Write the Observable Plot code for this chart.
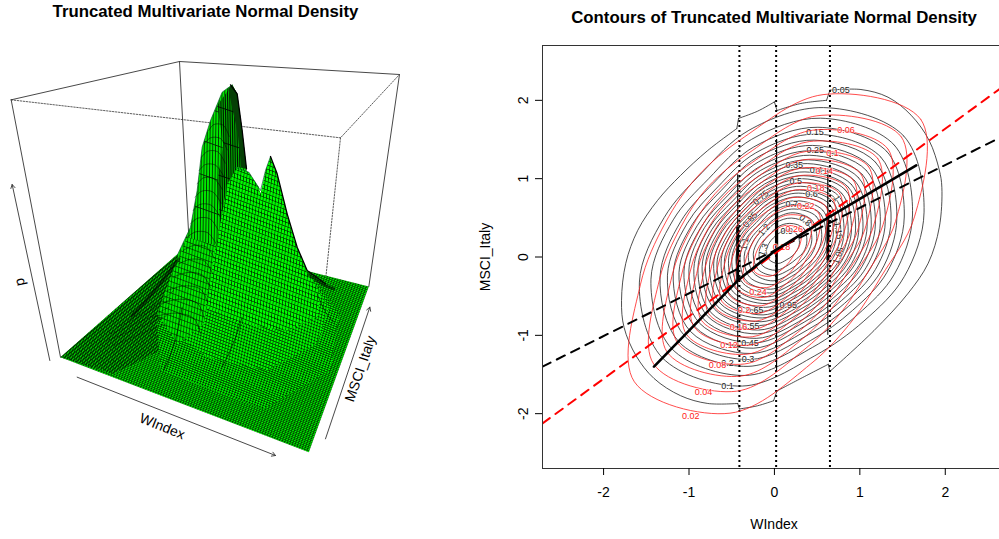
<!DOCTYPE html>
<html><head><meta charset="utf-8">
<script src="https://cdn.jsdelivr.net/npm/d3@7"></script>
<script src="https://cdn.jsdelivr.net/npm/@observablehq/plot@0.6"></script>
<style>
html,body{margin:0;padding:0;background:#fff}
#page{position:relative;width:999px;height:539px;overflow:hidden;background:#fff}
#left,#right{position:absolute;top:0}
#left{left:0;width:420px}#right{left:470px;width:535px}
svg{background:transparent!important;max-width:none!important}
</style></head><body><div id="page"><div id="left"></div><div id="right"></div></div>
<script>
const FONT = "Liberation Sans, Arial, sans-serif";
const titleLeft = "Truncated Multivariate Normal Density";
const titleRight = "Contours of Truncated Multivariate Normal Density";

// ---------- right panel: values ----------
const truncationCuts = [-0.41, 0.02, 0.65];
const regressionBlack = [[-2.715,-1.40],[2.705,1.56]];
const regressionRed = [[-2.715,-2.125],[2.705,2.20]];
const piecewiseMean = [[-1.41,-1.40],[-0.41,-0.28],[0.02,0.09],[0.64,0.51],[1.66,1.17]];
const contourAngles = [15,45,75,105,135,165,195,225,255,285,315,345];
const blackCentre = [0.10,0.13];
const redCentre = [0.036,0.083];
const black005Sectors = [
[[-0.44,1.64],[-0.78,1.36],[-1.10,1.04],[-1.37,0.72],[-1.60,0.34],[-1.74,-0.08],[-1.79,-0.556],[-1.76,-0.90],[-1.62,-1.26],[-1.41,-1.55],[-1.10,-1.77],[-0.78,-1.87],[-0.43,-1.87]],
[[-0.41,-1.94],[-0.2,-1.90],[-0.01,-1.835]],
[[0.03,-1.71],[0.31,-1.55],[0.63,-1.37]],
[[0.65,-1.46],[1.165,-0.94],[1.56,-0.47],[1.80,-0.08],[1.93,0.38],[1.96,0.89],[1.93,1.11],[1.81,1.49],[1.60,1.81],[1.33,2.04],[1.013,2.138],[0.65,2.13]],
[[0.61,2.0],[0.31,1.96],[0.03,1.87]],
[[0.0,1.98],[-0.2,1.86],[-0.42,1.77]]];
const blackLevels = [0.1,0.15,0.2,0.25,0.3,0.35,0.4,0.45,0.5,0.55,0.6,0.65,0.7,0.75,0.8,0.85,0.9,0.95,1,1.05,1.1,1.15,1.2,1.25,1.3,1.35];
const blackRadii = [
[1.71,2.00,1.84,1.54,1.34,1.44,1.74,2.00,1.84,1.44,1.34,1.47],
[1.57,1.84,1.70,1.42,1.23,1.33,1.60,1.84,1.70,1.33,1.23,1.35],
[1.47,1.72,1.58,1.32,1.15,1.24,1.49,1.72,1.58,1.24,1.15,1.26],
[1.38,1.62,1.49,1.24,1.08,1.16,1.40,1.62,1.49,1.16,1.08,1.19],
[1.31,1.53,1.41,1.18,1.02,1.10,1.33,1.53,1.41,1.10,1.02,1.12],
[1.24,1.45,1.34,1.12,.97,1.04,1.26,1.45,1.34,1.04,.97,1.06],
[1.18,1.38,1.27,1.06,.92,.99,1.20,1.38,1.27,.99,.92,1.01],
[1.12,1.31,1.21,1.01,.88,.95,1.14,1.31,1.21,.95,.88,.96],
[1.07,1.25,1.15,.96,.83,.90,1.08,1.25,1.15,.90,.83,.92],
[1.02,1.19,1.10,.92,.79,.86,1.03,1.19,1.10,.86,.79,.87],
[.97,1.13,1.04,.87,.76,.82,.98,1.13,1.04,.82,.76,.83],
[.92,1.08,.99,.83,.72,.78,.94,1.08,.99,.78,.72,.79],
[.88,1.03,.94,.79,.68,.74,.89,1.03,.94,.74,.68,.75],
[.83,.97,.90,.75,.65,.70,.84,.97,.90,.70,.65,.71],
[.79,.92,.85,.71,.62,.66,.80,.92,.85,.66,.62,.68],
[.74,.87,.80,.67,.58,.63,.75,.87,.80,.63,.58,.64],
[.70,.82,.75,.63,.55,.59,.71,.82,.75,.59,.55,.60],
[.65,.77,.71,.59,.51,.55,.66,.77,.71,.55,.51,.56],
[.61,.72,.66,.55,.48,.52,.62,.72,.66,.52,.48,.52],
[.56,.66,.61,.51,.44,.48,.57,.66,.61,.48,.44,.49],
[.52,.61,.56,.47,.40,.44,.52,.61,.56,.44,.40,.44],
[.47,.55,.50,.42,.36,.39,.47,.55,.50,.39,.36,.40],
[.41,.48,.45,.37,.32,.35,.42,.48,.45,.35,.32,.35],
[.35,.41,.38,.32,.28,.30,.36,.41,.38,.30,.28,.30],
[.29,.34,.31,.26,.22,.24,.29,.34,.31,.24,.22,.25],
[.20,.23,.22,.18,.16,.17,.20,.23,.22,.17,.16,.17]];
const redLevels = [0.02,0.04,0.06,0.08,0.1,0.12,0.14,0.16,0.18,0.2,0.22,0.24,0.26,0.28];
const redRadii = [
[1.66,2.37,2.06,1.5,1.33,1.36,1.66,2.37,2.15,1.5,1.25,1.26],
[1.43,2.05,1.78,1.29,1.15,1.17,1.43,2.05,1.86,1.29,1.08,1.09],
[1.28,1.83,1.59,1.16,1.03,1.05,1.28,1.83,1.66,1.16,.96,.97],
[1.16,1.66,1.44,1.05,.93,.95,1.16,1.66,1.50,1.05,.87,.88],
[1.06,1.51,1.31,.96,.85,.87,1.06,1.51,1.37,.96,.80,.80],
[.97,1.38,1.20,.87,.77,.79,.97,1.38,1.25,.87,.73,.73],
[.88,1.26,1.09,.80,.70,.72,.88,1.26,1.14,.80,.66,.67],
[.80,1.14,.99,.72,.64,.66,.80,1.14,1.04,.72,.60,.61],
[.72,1.03,.89,.65,.58,.59,.72,1.03,.93,.65,.54,.55],
[.64,.92,.80,.58,.51,.53,.64,.92,.83,.58,.48,.49],
[.56,.80,.70,.51,.45,.46,.56,.80,.73,.51,.42,.43],
[.48,.68,.59,.43,.38,.39,.48,.68,.62,.43,.36,.36],
[.38,.55,.47,.35,.31,.31,.38,.55,.49,.35,.29,.29],
[.27,.38,.33,.24,.21,.22,.27,.38,.34,.24,.20,.20]];
// label, x, y, rotation
const blackLabels = [["0.05",.778,2.125,0],["0.1",-.55,-1.643,0],["0.15",.474,1.596,0],["0.2",-.55,-1.358,0],["0.25",.477,1.362,0],["0.3",-.308,-1.302,0],["0.35",.231,1.17,0],["0.4",.487,1.106,0],["0.45",-.285,-1.097,0],["0.5",.251,.965,0],["0.55",-.277,-.876,0],["0.6",.435,.808,0],["0.65",-.23,-.684,0],["0.7",.204,.68,0],["0.75",-.159,.757,-40],["0.8",.36,.467,40],["0.85",-.285,.475,-50],["0.9",.145,.326,0],["0.95",.161,-.62,0],["1",.73,.75,60],["1.05",.751,.02,-70],["1.1",-.347,.169,-80],["1.15",.747,.339,80],["1.2",-.12,.348,-50],["1.3",-.128,.092,-70]];
const redLabels = [["0.02",-.98,-2.027],["0.04",-.831,-1.729],["0.06",.837,1.626],["0.08",-.667,-1.375],["0.1",.681,1.327],["0.12",-.531,-1.123],["0.14",.583,1.097],["0.16",-.421,-.897],["0.18",.485,.88],["0.2",-.355,-.684],["0.22",.368,.65],["0.24",-.191,-.45],["0.26",.231,.36],["0.28",.083,.125]];
// x, y1, y2, width of the packed contour steps along the cuts
const cutBars = [[-0.43,0.38,-0.30,3],[-0.43,1.05,0.38,1.1],[-0.43,-0.30,-1.2,1.1],[0.025,0.82,0.08,3.2],[0.025,1.5,0.82,1.1],[0.025,0.08,-0.78,2.6],[0.025,-0.78,-1.45,1.1],[0.625,0.55,-0.05,2.8],[0.625,1.1,0.55,1.2],[0.625,-0.05,-1.0,1]];

function polar(levels, radii, centre){
  return levels.flatMap((level,i)=>contourAngles.map((a,k)=>({level,
    x:centre[0]+radii[i][k]*Math.cos(a*Math.PI/180),
    y:centre[1]+radii[i][k]*Math.sin(a*Math.PI/180)})));
}
const sectorRows = black005Sectors.flatMap((pts,i)=>pts.map(p=>({i,x:p[0],y:p[1]})));
const sectorSteps = black005Sectors.flatMap((pts,i)=>{
  const next = black005Sectors[(i+1)%black005Sectors.length];
  return [{i,x:pts[pts.length-1][0],y:pts[pts.length-1][1]},{i,x:next[0][0],y:next[0][1]}];
});
const right = Plot.plot({
  width:535,height:539,marginLeft:72,marginRight:0,marginTop:45,marginBottom:71,
  style:{fontFamily:FONT,fontSize:"14px",color:"#000"},
  x:{domain:[-2.715,2.705]},y:{domain:[-2.7,2.7]},
  marks:[
    Plot.line(polar(blackLevels,blackRadii,blackCentre),{x:"x",y:"y",z:"level",curve:"catmull-rom-closed",stroke:"#222",strokeWidth:.8,clip:true}),
    Plot.line(sectorRows,{x:"x",y:"y",z:"i",curve:"catmull-rom",stroke:"#222",strokeWidth:.8}),
    Plot.line(sectorSteps,{x:"x",y:"y",z:"i",stroke:"#222",strokeWidth:.8}),
    Plot.text(blackLabels,{x:d=>d[1],y:d=>d[2],text:d=>d[0],rotate:d=>d[3],fontSize:9,fill:"#222",stroke:"#fff",strokeWidth:1.5,strokeOpacity:.7}),
    Plot.ruleX(truncationCuts,{stroke:"#000",strokeWidth:2,strokeDasharray:"2,3"}),
    Plot.ruleX(cutBars,{x:d=>d[0],y1:d=>d[1],y2:d=>d[2],strokeWidth:d=>d[3],stroke:"#000"}),
    Plot.line(polar(redLevels,redRadii,redCentre),{x:"x",y:"y",z:"level",curve:"catmull-rom-closed",stroke:"#ff2020",strokeWidth:.8,clip:true}),
    Plot.text(redLabels,{x:d=>d[1],y:d=>d[2],text:d=>d[0],fontSize:9,fill:"#ff2020",stroke:"#fff",strokeWidth:1.5,strokeOpacity:.7}),
    Plot.line(regressionBlack,{x:d=>d[0],y:d=>d[1],stroke:"#000",strokeWidth:2,strokeDasharray:"9,7",clip:true}),
    Plot.line(regressionRed,{x:d=>d[0],y:d=>d[1],stroke:"#ff0000",strokeWidth:2,strokeDasharray:"9,7",clip:true}),
    Plot.line(piecewiseMean,{x:d=>d[0],y:d=>d[1],stroke:"#000",strokeWidth:2.6}),
    Plot.frame({stroke:"#333"}),
    Plot.axisX({ticks:[-2,-1,0,1,2],tickSize:7,tickPadding:12,tickFormat:d=>String(d),label:"WIndex",labelAnchor:"center",labelArrow:"none",labelOffset:60,fontSize:14}),
    Plot.axisY({ticks:[-2,-1,0,1,2],tickSize:7,tickPadding:8,tickFormat:d=>String(d),tickRotate:-90,label:"MSCI_Italy",labelAnchor:"center",labelArrow:"none",labelOffset:62,fontSize:14}),
    Plot.text([titleRight],{frameAnchor:"top",dy:-34,fontSize:16.8,fontWeight:"bold",fill:"#000"})
  ]
});
document.getElementById("right").append(right);

// ---------- left panel: outlines (grid of the reference, 3 units per pixel) ----------
const boxSolid = [[[32,148],[537,33],[1197,72],[1105,708]],[[32,148],[180,920]],[[537,33],[565,560]]];
const boxDotted = [[[32,148],[1020,262],[1197,72]],[[1020,262],[975,690]]];
const axisArrows = [[148,930,35,402],[230,980,825,1215],[975,1165,1108,770]];
const axisNames = [["p",58,695,-102],["WIndex",485,1128,22],["MSCI_Italy",1080,955,-71]];
const floorOutline = [[180,920],[925,1205],[1105,708],[915,660],[530,612]];
const floorBack = [[180,920],[530,612],[560,650],[520,800],[480,900],[340,970]];
const rearPeak = [[530,615],[570,530],[590,420],[605,290],[630,210],[665,125],[695,103],[710,130],[725,240],[738,355],[745,480],[700,620],[560,760]];
const rearCore = [[650,165],[695,103],[710,130],[725,240],[738,355],[712,350],[680,400],[660,520],[650,400],[668,280]];
const rearShade = [[683,115],[695,103],[710,130],[725,240],[738,355],[722,350],[712,250]];
const midBody = [[560,640],[640,640],[760,500],[920,660],[1015,790],[990,960],[790,1075],[480,960],[470,820]];
const upperMid = [[600,650],[760,500],[920,660],[985,770],[950,880],[800,960],[620,920],[540,860]];
const frontBody = [[660,520],[670,460],[685,395],[710,350],[745,365],[775,410],[780,430],[795,360],[810,318],[830,370],[860,490],[890,590],[920,660],[960,730],[950,800],[860,840],[720,820],[615,770],[640,620]];
const leftBody = [[535,615],[560,560],[700,600],[645,640],[610,820],[530,880],[470,790]];
const silhouetteEdges = [[[690,103],[710,130],[725,240],[738,355]],[[810,318],[830,370],[860,490],[890,590],[920,660],[975,700]]];
const softEdges = [[[530,615],[570,530],[590,420],[605,290],[630,210],[665,125],[695,103]],[[700,350],[745,365],[780,420],[795,360],[810,318]]];
const ribArcs = [[[625,240],[640,222],[668,224],[686,258]],[[612,280],[630,262],[660,264],[680,298]],[[603,320],[622,302],[652,304],[674,338]],[[596,360],[615,342],[645,344],[670,378]],[[590,400],[609,382],[640,384],[666,418]],[[584,440],[604,422],[636,424],[662,458]],[[578,480],[598,462],[632,464],[658,498]],[[570,520],[592,503],[628,505],[654,540]],[[560,560],[586,544],[622,547],[648,582]],[[548,600],[580,585],[618,590],[642,625]],[[535,640],[572,626],[612,632],[636,668]],[[518,680],[562,666],[606,674],[630,712]],[[500,720],[552,706],[600,716],[622,758]],[[478,760],[540,746],[592,760],[612,806]],[[456,800],[528,788],[580,804],[600,850]]];
const ridgeLines = [[[545,770],[525,880],[490,960]],[[725,800],[700,880],[665,950]],[[950,730],[975,790],[1000,815]]];
const creases = [[[535,625],[480,700],[420,770],[395,795]],[[925,672],[970,705],[1000,715]]];
const fanLines = [[[520,720],[460,770],[380,810]],[[510,745],[440,790],[350,830]],[[505,770],[430,810],[330,850]],[[500,795],[420,830],[320,870]],[[495,820],[420,850],[340,885]]];

const l2 = a=>a.flatMap((pts,i)=>pts.map(p=>({i,x:p[0],y:p[1]})));
const poly = (pts,fill)=>Plot.line(pts,{x:d=>d[0],y:d=>d[1],fill,stroke:"none"});
const left = Plot.plot({
  width:420,height:539,marginLeft:0,marginRight:0,marginTop:0,marginBottom:0,
  style:{fontFamily:FONT,fontSize:"14px",color:"#000"},
  x:{domain:[0,1230],range:[0,410],axis:null},
  y:{domain:[0,1260],range:[50,470],axis:null},
  marks:[
    Plot.line(l2(boxDotted),{x:"x",y:"y",z:"i",stroke:"#333",strokeWidth:.8,strokeDasharray:"1.5,1.5"}),
    Plot.line(l2(boxSolid),{x:"x",y:"y",z:"i",stroke:"#333",strokeWidth:.9}),
    poly(floorOutline,"url(#meshFloor)"),
    poly(floorBack,"url(#meshBack)"),
    poly(midBody,"url(#meshMid)"),
    poly(upperMid,"url(#meshUpper)"),
    poly(rearPeak,"url(#meshStripe)"),
    poly(rearCore,"url(#meshCore)"),
    poly(rearShade,"#063f06"),
    poly(leftBody,"url(#meshLeft)"),
    poly(frontBody,"url(#meshFront)"),
    Plot.line(l2(fanLines),{x:"x",y:"y",z:"i",curve:"basis",stroke:"#000",strokeWidth:.6,strokeOpacity:.6}),
    Plot.line(l2(ribArcs),{x:"x",y:"y",z:"i",curve:"catmull-rom",stroke:"#000",strokeWidth:.7,strokeOpacity:.7}),
    Plot.line(l2(ridgeLines),{x:"x",y:"y",z:"i",curve:"basis",stroke:"#000",strokeWidth:.9,strokeOpacity:.65}),
    Plot.line(l2(creases),{x:"x",y:"y",z:"i",curve:"basis",stroke:"#000",strokeWidth:3,strokeOpacity:.55}),
    Plot.line(l2(softEdges),{x:"x",y:"y",z:"i",stroke:"#052",strokeWidth:.8,strokeOpacity:.8}),
    Plot.line(l2(silhouetteEdges),{x:"x",y:"y",z:"i",stroke:"#000",strokeWidth:1.3,strokeLinejoin:"round"}),
    Plot.arrow(axisArrows,{x1:d=>d[0],y1:d=>d[1],x2:d=>d[2],y2:d=>d[3],stroke:"#333",strokeWidth:.9,headLength:7,bend:0}),
    Plot.text(axisNames,{x:d=>d[1],y:d=>d[2],text:d=>d[0],rotate:d=>d[3],fontSize:14,fill:"#000"}),
    Plot.text([titleLeft],{x:[615],y:[-117],fontSize:16.8,fontWeight:"bold",fill:"#000"})
  ]
});
const defs = d3.select(left).insert("defs",":first-child");
// id, [ux,uy,vx,vy] cell edges in px, cell colour, line colour, line width in px
const meshes = [
  ["meshFloor",[2.48,.95,.6,-1.66],"#00ff00","#001a00",.6],
  ["meshBack",[2.1,.7,.45,-1.25],"#00e000","#001a00",.6],
  ["meshMid",[2.6,1.0,.58,-2.1],"#00ff00","#001a00",.62],
  ["meshUpper",[2.75,1.05,.52,-3.0],"#00ff00","#002000",.62],
  ["meshFront",[3.0,1.15,.46,-4.0],"#00ff00","#002000",.62],
  ["meshLeft",[2.8,1.05,.6,-5.5],"#00f000","#002000",.62],
  ["meshStripe",[2.8,1.0,.5,-34],"#00e800","#002000",.8],
  ["meshCore",[1.8,.6,.45,-34],"#00c000","#001000",.95]
];
for (const [id,m,col,line,t] of meshes){
  const [ux,uy,vx,vy] = m;
  const p = defs.append("pattern").attr("id",id).attr("patternUnits","userSpaceOnUse").attr("width",1).attr("height",1).attr("patternTransform",`matrix(${m.join(",")},0,0)`);
  p.append("rect").attr("width",1).attr("height",1).attr("fill",col);
  const area = Math.abs(ux*vy-uy*vx);
  p.append("rect").attr("width",1).attr("height",t*Math.hypot(ux,uy)/area).attr("fill",line);
  p.append("rect").attr("width",t*Math.hypot(vx,vy)/area).attr("height",1).attr("fill",line);
}
document.getElementById("left").append(left);
</script></body></html>
